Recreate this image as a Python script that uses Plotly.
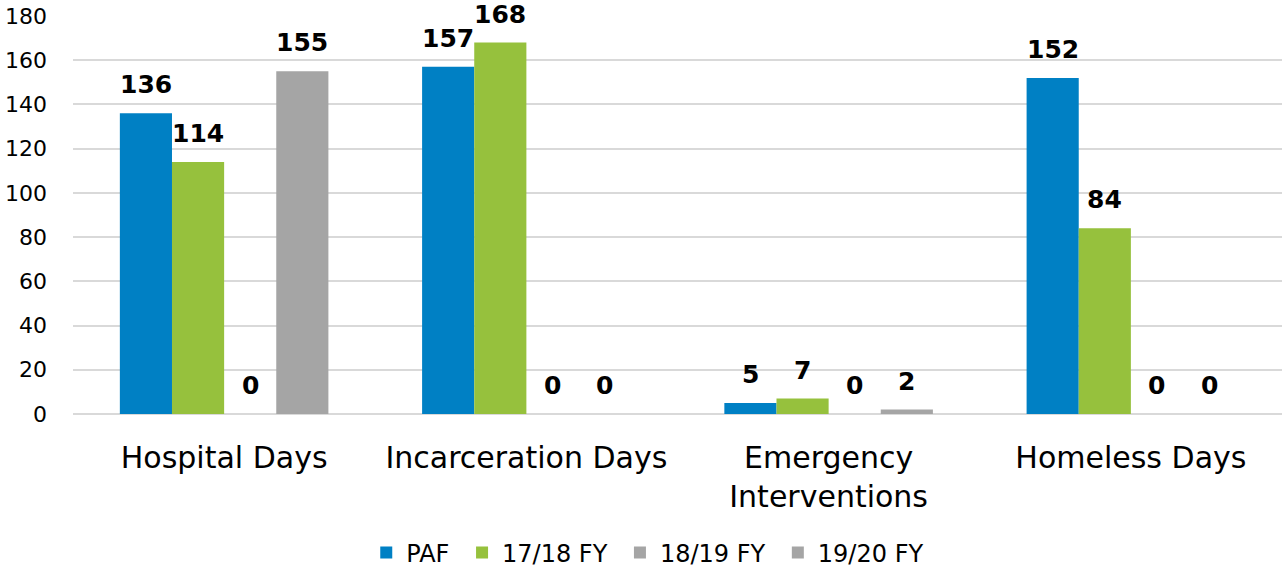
import plotly.graph_objects as go

categories = ["Hospital Days", "Incarceration Days", "Emergency<br>Interventions", "Homeless Days"]
series_names = ["PAF", "17/18 FY", "18/19 FY", "19/20 FY"]
paf = [136, 157, 5, 152]
fy1718 = [114, 168, 7, 84]
fy1819 = [0, 0, 0, 0]
fy1920 = [155, 0, 2, 0]
colors = ["#0080C4", "#96C13D", "#A5A5A5", "#A5A5A5"]
y_ticks = [0, 20, 40, 60, 80, 100, 120, 140, 160, 180]

FONT = "DejaVu Sans, sans-serif"
BARGAP = 0.31
all_series = [paf, fy1718, fy1819, fy1920]
n = len(all_series)

fig = go.Figure()
for name, vals, col in zip(series_names, all_series, colors):
    fig.add_trace(go.Bar(
        x=list(range(len(categories))), y=vals, name=name + "\u00a0",
        marker=dict(color=col, line=dict(width=0)),
    ))

# value labels, placed over each grouped bar
w = (1 - BARGAP) / n
for j, vals in enumerate(all_series):
    for i, v in enumerate(vals):
        fig.add_annotation(
            x=i + (j - (n - 1) / 2) * w, y=v, xref="x", yref="y",
            text=f"<b>{v}</b>", showarrow=False, yanchor="bottom", yshift=12,
            font=dict(family=FONT, size=25, color="#000000"),
        )

W, H = 1282, 568
fig.update_layout(
    width=W, height=H,
    margin=dict(l=73, r=0, t=16, b=154),
    paper_bgcolor="white", plot_bgcolor="white",
    barmode="group", bargap=BARGAP, bargroupgap=0,
    font=dict(family=FONT, color="#000000"),
    showlegend=True,
    legend=dict(orientation="h", x=0.508, xanchor="center", xref="container",
                y=(H - 553) / H, yanchor="middle", yref="container",
                font=dict(size=24, family=FONT), tracegroupgap=0, itemwidth=30),
)
fig.update_xaxes(tickmode="array", tickvals=list(range(len(categories))), ticktext=categories,
                 range=[-0.5, len(categories) - 0.5],
                 tickfont=dict(size=30, family=FONT), showgrid=False, showline=False, ticks="",
                 ticklabelstandoff=23, automargin=False)
fig.update_yaxes(range=[0, 180], tickvals=y_ticks, tickfont=dict(size=22, family=FONT),
                 showgrid=True, gridcolor="#D9D9D9", gridwidth=1.5, zeroline=True,
                 zerolinecolor="#D9D9D9", zerolinewidth=1.5, ticks="", ticklabelstandoff=25,
                 ticklabeloverflow="allow", automargin=False)

fig.write_html("out.html", config={"displayModeBar": False},
               post_script="document.body.style.margin='0';")
